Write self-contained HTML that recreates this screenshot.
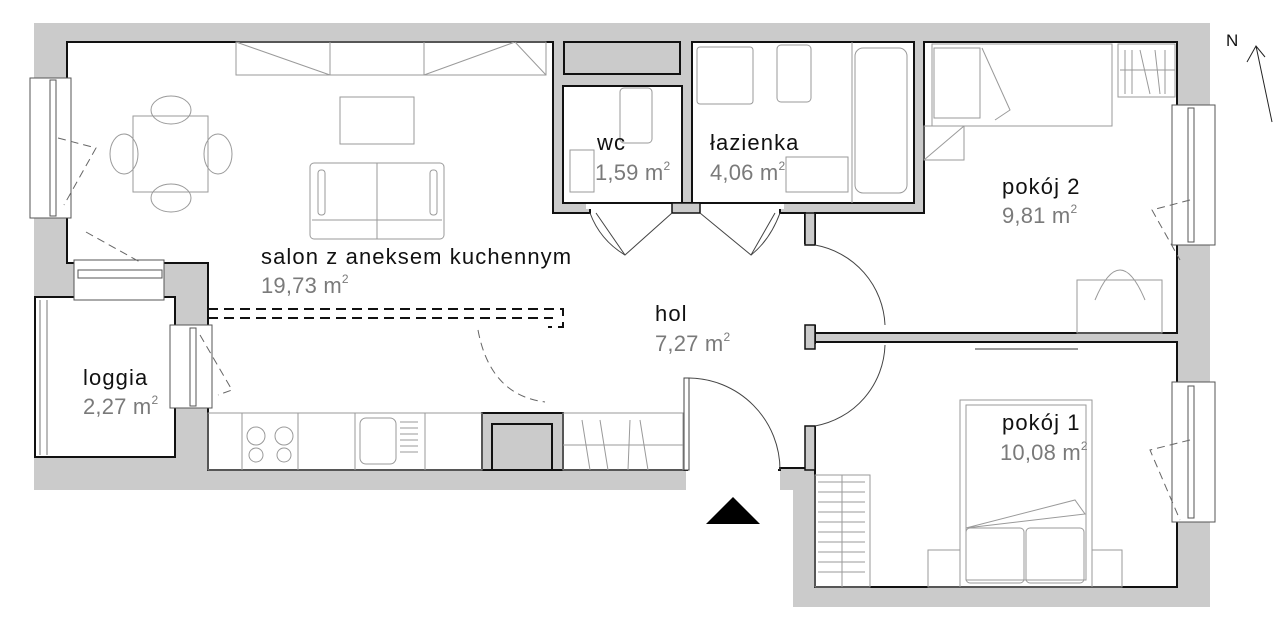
<!DOCTYPE html>
<html><head><meta charset="utf-8"><style>
html,body{margin:0;padding:0;background:#fff;width:1280px;height:625px;overflow:hidden}
svg{display:block}
.n{font-family:"Liberation Sans",sans-serif;font-size:22px;fill:#111;letter-spacing:1.1px}
.a{font-family:"Liberation Sans",sans-serif;font-size:22px;fill:#7a7a7a;letter-spacing:0.2px}
.s{font-size:12px}
.f{fill:none;stroke:#9a9a9a;stroke-width:1}
.w{fill:#fff;stroke:#111;stroke-width:2}
.d{fill:none;stroke:#111;stroke-width:2;stroke-dasharray:10 6}
.t{fill:none;stroke:#444;stroke-width:1}
</style></head><body>
<svg width="1280" height="625" viewBox="0 0 1280 625" xmlns="http://www.w3.org/2000/svg">
<polygon fill="#cbcbcb" points="34,23 1210,23 1210,607 793,607 793,490 34,490"/>
<rect x="686" y="470" width="94" height="140" fill="#fff"/>
<rect x="686" y="490" width="107" height="140" fill="#fff"/>
<rect x="780" y="468" width="35" height="22" fill="#cbcbcb"/>
<rect x="793" y="490" width="22" height="117" fill="#cbcbcb"/>
<!-- salon + hall -->
<polygon class="w" points="67,42 553,42 553,213 590,213 590,203 672,203 700,203 780,203 780,213 805,213 805,243 815,243 815,468 780,468 780,470 686,470 563,470 563,470 208,470 208,263 67,263"/>
<rect x="586" y="199" width="90" height="10" fill="#fff"/>
<rect x="696" y="199" width="88" height="10" fill="#fff"/>
<rect x="800" y="245" width="20" height="80" fill="#fff"/>
<rect x="800" y="344" width="20" height="82" fill="#fff"/>
<rect x="688" y="466" width="90" height="8" fill="#fff"/>
<!-- loggia -->
<rect class="w" x="35" y="297" width="140" height="160"/>
<line x1="40" y1="300" x2="40" y2="455" stroke="#777"/><line x1="47" y1="300" x2="47" y2="455" stroke="#777"/>
<rect class="w" x="564" y="42" width="116" height="32" style="fill:#cbcbcb"/>
<rect class="w" x="563" y="86" width="119" height="117"/>
<rect class="w" x="692" y="42" width="222" height="161"/>
<polygon class="w" points="924,42 1177,42 1177,333 815,333 815,213 924,213"/>
<rect x="810" y="245" width="10" height="80" fill="#fff"/>
<rect class="w" x="815" y="342" width="362" height="245"/>
<rect x="810" y="344" width="10" height="82" fill="#fff"/>
<rect x="805" y="213" width="10" height="32" fill="#cbcbcb" stroke="#111" stroke-width="1.5"/>
<rect x="805" y="325" width="10" height="24" fill="#cbcbcb" stroke="#111" stroke-width="1.5"/>
<rect x="805" y="426" width="10" height="44" fill="#cbcbcb" stroke="#111" stroke-width="1.5"/>
<rect x="672" y="203" width="28" height="10" fill="#cbcbcb" stroke="#111" stroke-width="1.5"/>
<rect x="482" y="413" width="81" height="57" fill="#cbcbcb" stroke="#111" stroke-width="2"/>
<rect x="492" y="424" width="60" height="46" fill="#cbcbcb" stroke="#111" stroke-width="2"/>
<g fill="#fff" stroke="#555" stroke-width="1">
<rect x="30" y="78" width="41" height="140"/><rect x="50" y="80" width="6" height="136"/>
<rect x="74" y="260" width="90" height="40"/><rect x="78" y="270" width="84" height="8"/>
<rect x="170" y="325" width="42" height="83"/><rect x="190" y="328" width="6" height="78"/>
<rect x="1172" y="105" width="43" height="140"/><rect x="1188" y="108" width="6" height="134"/>
<rect x="1172" y="382" width="43" height="140"/><rect x="1188" y="386" width="6" height="132"/>
</g>
<g fill="none" stroke="#666" stroke-dasharray="8 5">
<path d="M58,138 L96,148 L64,205"/><path d="M86,232 L140,262"/><path d="M200,335 L232,390 L218,395"/>
<path d="M1190,200 L1152,210 L1180,260"/><path d="M1190,440 L1150,450 L1180,520"/>
<path d="M478,330 Q490,395 545,402"/>
</g>
<path class="d" d="M208,309 L563,309 L563,327 L548,327"/>
<path class="d" d="M208,318 L553,318"/>
<g class="t">
<path d="M596,213 L625,255 L672,213"/><path d="M700,213 L751,255 L775,213"/>
<path d="M590,213 Q600,240 625,255"/><path d="M780,213 Q770,240 751,255"/>
<path d="M815,245 A85,85 0 0 1 885,325"/>
<path d="M815,426 A85,85 0 0 0 885,345"/>
<rect x="684" y="378" width="5" height="92" fill="#fff"/>
<path d="M689,378 A92,92 0 0 1 780,470"/>
</g>
<g class="f">
<rect x="236" y="42" width="310" height="33"/>
<path d="M236,42 L330,75 M330,42 V75 M424,42 V75 M424,75 L515,42 M515,42 L546,75"/>
<rect x="340" y="97" width="74" height="47"/>
<rect x="310" y="163" width="134" height="76" rx="4"/>
<line x1="377" y1="163" x2="377" y2="239"/><line x1="312" y1="220" x2="442" y2="220"/>
<rect x="318" y="170" width="7" height="45" rx="3"/><rect x="430" y="170" width="7" height="45" rx="3"/>
<rect x="133" y="116" width="75" height="76"/>
<ellipse cx="171" cy="110" rx="20" ry="14"/><ellipse cx="171" cy="198" rx="20" ry="14"/>
<ellipse cx="124" cy="154" rx="14" ry="20"/><ellipse cx="218" cy="154" rx="14" ry="20"/>
<rect x="208" y="413" width="274" height="57"/>
<path d="M242,413 V470 M298,413 V470 M355,413 V470 M425,413 V470"/>
<circle cx="256" cy="436" r="9"/><circle cx="284" cy="436" r="9"/><circle cx="256" cy="455" r="7"/><circle cx="284" cy="455" r="7"/>
<rect x="360" y="418" width="36" height="46" rx="6"/>
<path d="M400,422 H418 M400,428 H418 M400,434 H418 M400,440 H418 M400,446 H418 M400,452 H418"/>
<rect x="563" y="413" width="120" height="57"/>
<path d="M563,445 H683 M582,420 L590,470 M600,420 L608,470 M630,420 L628,470 M640,420 L648,470"/>
</g>
<g class="f">
<rect x="620" y="88" width="32" height="55" rx="4"/>
<rect x="570" y="150" width="24" height="42"/>
<rect x="697" y="47" width="56" height="57" rx="3"/>
<rect x="777" y="45" width="34" height="57" rx="4"/>
<line x1="852" y1="42" x2="852" y2="203"/>
<rect x="855" y="48" width="52" height="145" rx="8"/>
<rect x="786" y="157" width="62" height="35"/>
</g>
<g class="f">
<rect x="932" y="44" width="180" height="82"/>
<rect x="934" y="48" width="46" height="70"/>
<path d="M982,48 L1010,110 L995,120"/>
<rect x="1118" y="44" width="57" height="53"/>
<path d="M1125,50 V94 M1132,50 V94 M1140,50 L1150,94 M1155,50 L1160,94 M1165,50 V94 M1120,70 H1175"/>
<rect x="924" y="126" width="40" height="34"/><line x1="924" y1="160" x2="964" y2="126"/>
<rect x="1077" y="280" width="85" height="53"/>
<path d="M1095,300 Q1120,240 1145,300"/>
</g>
<g class="f">
<rect x="960" y="400" width="132" height="187"/>
<rect x="966" y="405" width="120" height="175"/>
<path d="M966,528 L1075,500 L1085,514 L966,528"/>
<rect x="966" y="528" width="58" height="55" rx="4"/><rect x="1026" y="528" width="58" height="55" rx="4"/>
<rect x="928" y="550" width="32" height="37"/><rect x="1092" y="550" width="30" height="37"/>
<path d="M975,349 H1078" stroke-width="2"/>
<rect x="815" y="475" width="55" height="112"/>
<path d="M818,482 H865 M818,492 H865 M818,502 H865 M818,512 H865 M818,522 H865 M818,532 H865 M818,542 H865 M818,552 H865 M818,562 H865 M818,572 H865 M842,475 V587"/>
</g>
<polygon points="706,524 733,497 760,524" fill="#000"/>
<text x="1226" y="46" class="n" style="font-size:17px;letter-spacing:0">N</text>
<path d="M1272,122 L1256,46 M1247,62 L1256,46 L1265,57" fill="none" stroke="#222" stroke-width="1"/>
<text x="597" y="150" class="n">wc</text>
<text x="595" y="180" class="a">1,59 m<tspan class="s" dy="-10">2</tspan></text>
<text x="710" y="150" class="n">łazienka</text>
<text x="710" y="180" class="a">4,06 m<tspan class="s" dy="-10">2</tspan></text>
<text x="1002" y="194" class="n">pokój 2</text>
<text x="1002" y="223" class="a">9,81 m<tspan class="s" dy="-10">2</tspan></text>
<text x="261" y="264" class="n">salon z aneksem kuchennym</text>
<text x="261" y="293" class="a">19,73 m<tspan class="s" dy="-10">2</tspan></text>
<text x="655" y="321" class="n">hol</text>
<text x="655" y="351" class="a">7,27 m<tspan class="s" dy="-10">2</tspan></text>
<text x="83" y="385" class="n">loggia</text>
<text x="83" y="414" class="a">2,27 m<tspan class="s" dy="-10">2</tspan></text>
<text x="1002" y="430" class="n">pokój 1</text>
<text x="1000" y="460" class="a">10,08 m<tspan class="s" dy="-10">2</tspan></text>
</svg>
</body></html>
